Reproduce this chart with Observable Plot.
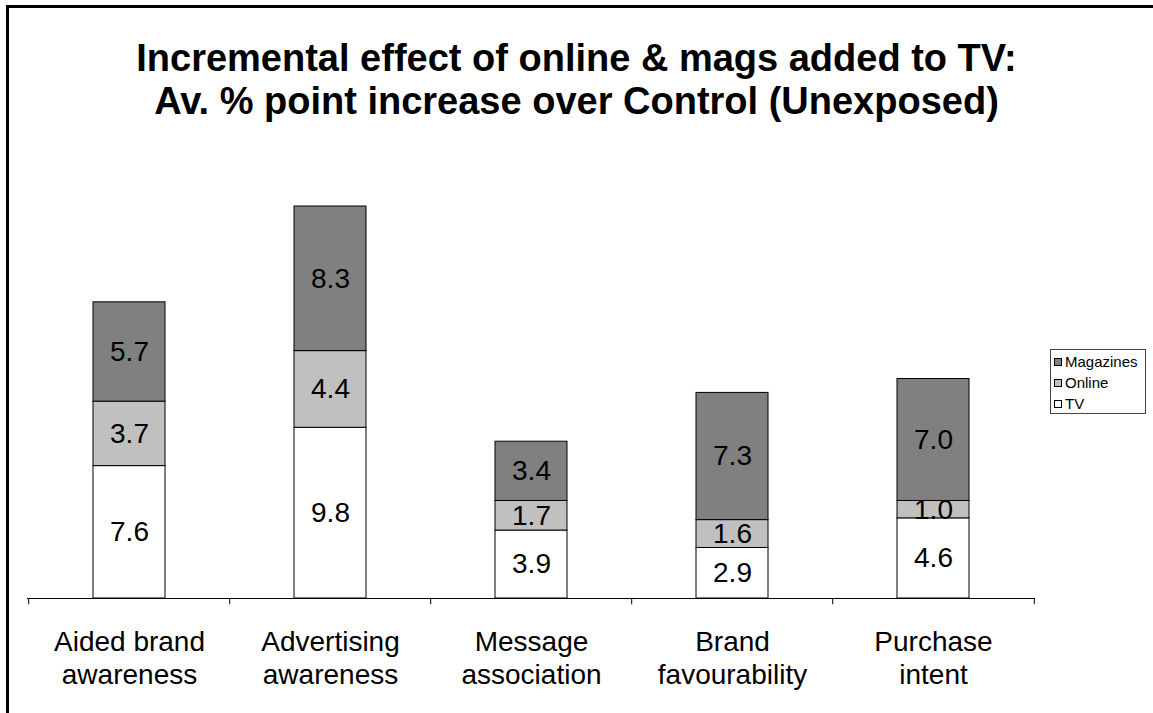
<!DOCTYPE html>
<html>
<head>
<meta charset="utf-8">
<script src="https://cdn.jsdelivr.net/npm/d3@7"></script>
<script src="https://cdn.jsdelivr.net/npm/@observablehq/plot@0.6"></script>
<style>
  html, body { margin: 0; padding: 0; width: 1153px; height: 713px; overflow: hidden; background: #fff; }
  body { position: relative; font-family: "Liberation Sans", Arial, sans-serif; }
  #frame { position: absolute; left: 6px; top: 5px; width: 1200px; height: 800px; border: 3px solid #000; box-sizing: border-box; pointer-events: none; }
  #title { position: absolute; left: 0; top: 37px; width: 1153px; text-align: center; font-weight: bold; font-size: 38px; line-height: 43px; color: #000; white-space: nowrap; }
  #chart { position: absolute; left: 0; top: 0; }
  #legend { position: absolute; left: 1050px; top: 349px; width: 96px; height: 65px; border: 1px solid #444; box-sizing: border-box; padding: 1px 0 0 3px; font-size: 15px; line-height: 21px; background: #fff; color: #000; }
  #legend .item { display: flex; align-items: center; white-space: nowrap; }
  #legend .sw { flex: 0 0 auto; width: 8px; height: 8px; border: 1px solid #000; box-sizing: border-box; margin-right: 3px; }
</style>
</head>
<body>
<div id="chart"></div>
<div id="title">Incremental effect of online &amp; mags added to TV:<br>Av. % point increase over Control (Unexposed)</div>
<div id="legend"></div>
<div id="frame"></div>
<script>
const categories = ["Aided brand\nawareness", "Advertising\nawareness", "Message\nassociation", "Brand\nfavourability", "Purchase\nintent"];
const seriesNames = ["TV", "Online", "Magazines"];
const tvValues = [7.6, 9.8, 3.9, 2.9, 4.6];
const onlineValues = [3.7, 4.4, 1.7, 1.6, 1.0];
const magazineValues = [5.7, 8.3, 3.4, 7.3, 7.0];
const seriesColors = ["#ffffff", "#c0c0c0", "#808080"];

const seriesValues = [tvValues, onlineValues, magazineValues];
const data = [];
categories.forEach((c, i) => {
  seriesNames.forEach((s, j) => {
    data.push({category: c, series: s, value: seriesValues[j][i]});
  });
});

const W = 1153, H = 713;
const mL = 27, mR = 118, mB = 115, mT = 206;
const step = (W - mL - mR) / categories.length;
const stackOpts = {order: seriesNames};

const chart = Plot.plot({
  width: W,
  height: H,
  marginLeft: mL,
  marginRight: mR,
  marginTop: mT,
  marginBottom: mB,
  style: {fontFamily: "'Liberation Sans', Arial, sans-serif", background: "transparent", overflow: "visible"},
  x: {domain: categories, paddingInner: 0.643, paddingOuter: 0.3215, axis: null},
  y: {domain: [0, 22.5], axis: null},
  color: {domain: seriesNames, range: seriesColors},
  marks: [
    Plot.barY(data, Plot.stackY(stackOpts, {x: "category", y: "value", z: "series", fill: "series", stroke: "#000", strokeWidth: 1})),
    Plot.text(data, Plot.stackY(stackOpts, {x: "category", y: "value", z: "series", text: d => d.value.toFixed(1), fontSize: 28, fill: "#000"})),
    Plot.ruleY([0], {stroke: "#000", strokeWidth: 1}),
    Plot.ruleX(categories, {x: d => d, y1: 0, y2: -0.36, dx: -step / 2, stroke: "#000"}),
    Plot.ruleX([categories[categories.length - 1]], {x: d => d, y1: 0, y2: -0.36, dx: step / 2, stroke: "#000"}),
    Plot.axisX({tickSize: 0, tickPadding: 29, fontSize: 28, lineHeight: 1.18, fill: "#000", label: null})
  ]
});
document.getElementById("chart").appendChild(chart);

const legend = document.getElementById("legend");
[...seriesNames].reverse().forEach(s => {
  const item = document.createElement("div");
  item.className = "item";
  const sw = document.createElement("span");
  sw.className = "sw";
  sw.style.background = seriesColors[seriesNames.indexOf(s)];
  const label = document.createElement("span");
  label.textContent = s;
  item.appendChild(sw);
  item.appendChild(label);
  legend.appendChild(item);
});
</script>
</body>
</html>
